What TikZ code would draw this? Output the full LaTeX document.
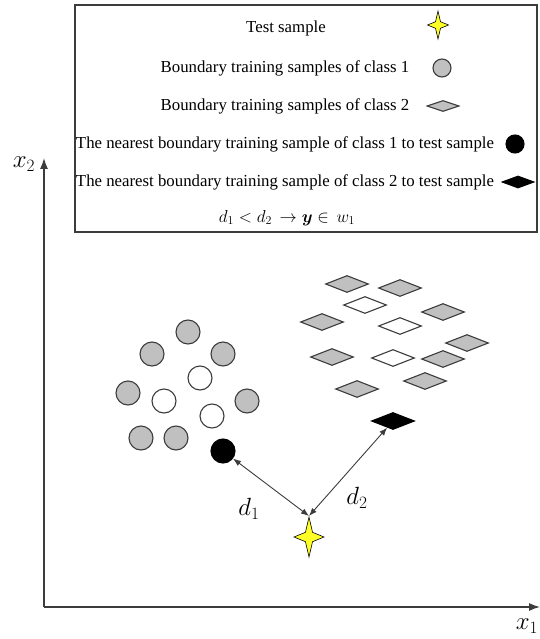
\documentclass[tikz,border=0pt]{standalone}
\usepackage{amsmath}
\usepackage{fontspec}
\setmainfont{Liberation Serif}
\usetikzlibrary{
    arrows.meta,
    shapes.geometric
}

\definecolor{classgray}{RGB}{192,192,192}
\definecolor{edgegray}{RGB}{60,60,60}
\definecolor{staryellow}{RGB}{255,255,40}

\tikzset{
    classone/.style={circle,draw=edgegray,line width=1.1pt,fill=classgray,
        minimum size=24pt,inner sep=0pt},
    classonein/.style={classone,fill=white},
    nearone/.style={classone,draw=black,fill=black},
    classtwo/.style={diamond,draw=edgegray,line width=1.1pt,fill=classgray,
        minimum width=43pt,minimum height=17pt,inner sep=0pt},
    classtwoin/.style={classtwo,fill=white},
    neartwo/.style={classtwo,draw=black,fill=black},
    teststar/.style={star,star points=4,star point ratio=3,draw=black,
        line width=0.6pt,fill=staryellow,minimum size=40pt,inner sep=0pt,xscale=0.75},
    legtext/.style={font=\fontsize{16.8}{18}\selectfont,inner sep=0pt},
    axis/.style={-{Latex[length=11pt,width=8pt]},edgegray,line width=1.4pt},
    dist/.style={{Latex[length=8pt,width=6pt]}-{Latex[length=8pt,width=6pt]},
        edgegray,line width=0.9pt}
}

\begin{document}
\begin{tikzpicture}[x=1pt,y=-1pt]

\useasboundingbox (0,0) rectangle (540,639);

% Axes
\coordinate (o) at (44,607);
\coordinate (xend) at (540,607);
\coordinate (yend) at (44,158);
\draw[axis] (o) -- (xend);
\draw[axis] (o) -- (yend);
\node[font=\fontsize{24}{26}\selectfont] (xlab) at (527,626) {$x_1$};
\node[font=\fontsize{24}{26}\selectfont] (ylab) at (24,164) {$x_2$};

% Legende
\node[draw=edgegray,line width=1.3pt,minimum width=462pt,minimum height=227pt,
    inner sep=0pt] (legend) at (306,118.5) {};
\node[legtext] (l1) at (286,28) {Test sample};
\node[legtext] (l2) at (285,68) {Boundary training samples of class 1};
\node[legtext] (l3) at (285,106) {Boundary training samples of class 2};
\node[legtext] (l4) at (285,144) {The nearest boundary training sample of class 1 to test sample};
\node[legtext] (l5) at (285,182) {The nearest boundary training sample of class 2 to test sample};
\node[legtext,font=\fontsize{18}{20}\selectfont] (l6) at (287,218)
    {$d_1<d_2\,\rightarrow\boldsymbol{y}\in\,w_1$};
\node[teststar,minimum size=28pt] (s1) at (438,25) {};
\node[classone,minimum size=18pt] (s2) at (442,68) {};
\node[classtwo,minimum width=32pt,minimum height=11pt] (s3) at (443,106) {};
\node[nearone,minimum size=18pt] (s4) at (515,144) {};
\node[neartwo,minimum width=32pt,minimum height=12pt] (s5) at (518,182) {};

% Classe 1
\foreach \px/\py [count=\i] in {188/332,152/354,223/354,128/393,247/401,141/438,176/438}
    \node[classone] (a\i) at (\px,\py) {};
\foreach \px/\py [count=\i] in {200/378,164/401,212/416}
    \node[classonein] (b\i) at (\px,\py) {};

% Classe 2
\foreach \px/\py [count=\i] in {347/284,400/288,443/312,322/322,467/343,
    332/357,443/359,425/381,357/389}
    \node[classtwo] (c\i) at (\px,\py) {};
\foreach \px/\py [count=\i] in {365/305,400/326,393/358}
    \node[classtwoin] (e\i) at (\px,\py) {};

% Plus proches voisins
\node[nearone] (n1) at (223,451) {};
\node[neartwo] (n2) at (393,421) {};

% Echantillon test
\node[teststar] (t) at (309,537) {};

% Distances
\draw[dist] (t.north) -- (n1);
\draw[dist] (t.north) -- (n2);
\node[font=\fontsize{23}{25}\selectfont] (dl1) at (249,509) {$d_1$};
\node[font=\fontsize{23}{25}\selectfont] (dl2) at (357,498) {$d_2$};

\end{tikzpicture}
\end{document}
